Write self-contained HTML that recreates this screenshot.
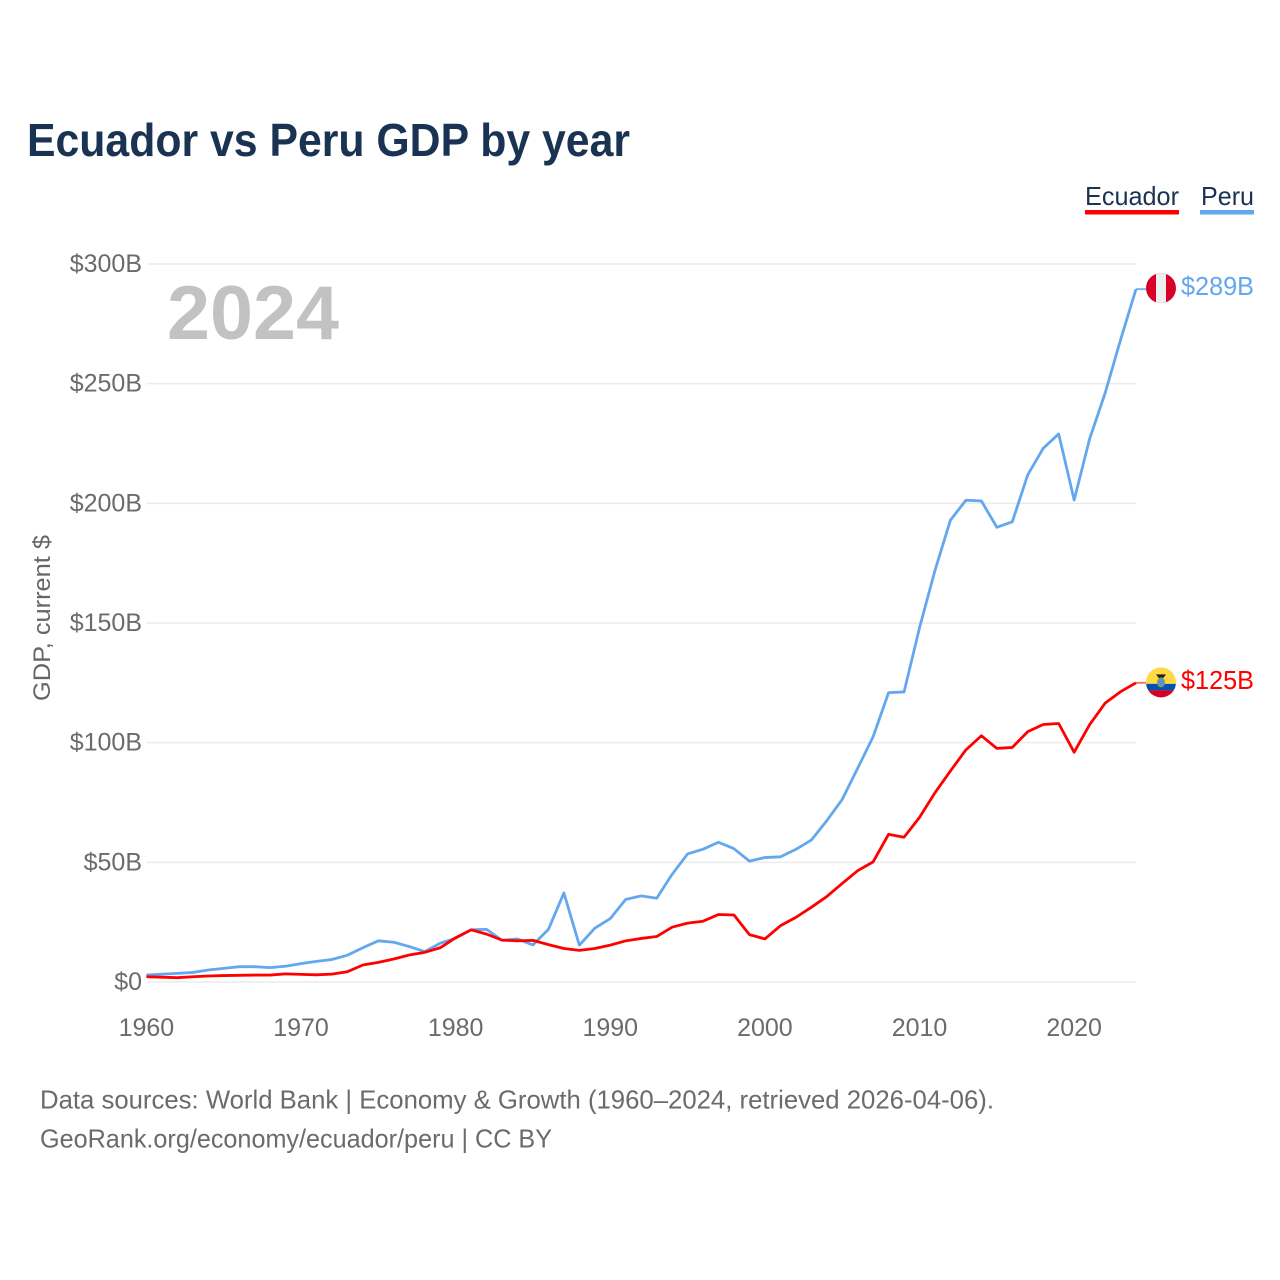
<!DOCTYPE html>
<html lang="en">
<head>
<meta charset="utf-8">
<title>Ecuador vs Peru GDP by year</title>
<style>
  html, body { margin: 0; padding: 0; background: #fff; }
  svg { display: block; font-family: "Liberation Sans", sans-serif; }
</style>
</head>
<body>
<svg id="chart" width="1280" height="1280" viewBox="0 0 1280 1280" xmlns="http://www.w3.org/2000/svg">
  <rect x="0" y="0" width="1280" height="1280" fill="#ffffff"/>
  <text x="27" y="156" font-size="46" font-weight="700" fill="#1b3353" textLength="603" lengthAdjust="spacingAndGlyphs">Ecuador vs Peru GDP by year</text>

  <g>
    <g>
      <text x="1085" y="205" font-size="26" fill="#1b3353" textLength="94" lengthAdjust="spacingAndGlyphs">Ecuador</text>
      <rect x="1085" y="210" width="94" height="4.5" fill="#ff0000"/>
    </g>
    <g>
      <text x="1201" y="205" font-size="26" fill="#1b3353" textLength="53" lengthAdjust="spacingAndGlyphs">Peru</text>
      <rect x="1200" y="210" width="54" height="4.5" fill="#63a7ee"/>
    </g>
  </g>

  <g id="grid"></g>
  <text x="167" y="339" font-size="76" font-weight="700" fill="#c2c2c2" textLength="172" lengthAdjust="spacingAndGlyphs">2024</text>
  <g id="yticks"></g>
  <g id="xticks"></g>
  <text transform="translate(50,618) rotate(-90)" text-anchor="middle" font-size="24" fill="#666666" textLength="166" lengthAdjust="spacingAndGlyphs">GDP, current $</text>
  <g id="series"></g>
  <g id="ends"></g>

  <text x="40" y="1108.5" font-size="26" fill="#6b6b6b" textLength="954" lengthAdjust="spacingAndGlyphs">Data sources: World Bank | Economy &amp; Growth (1960–2024, retrieved 2026-04-06).</text>
  <text x="40" y="1147.5" font-size="26" fill="#6b6b6b" textLength="512" lengthAdjust="spacingAndGlyphs">GeoRank.org/economy/ecuador/peru | CC BY</text>
</svg>
<script>
const years = [];
for (let yr = 1960; yr <= 2024; yr++) years.push(yr);
const peruGdp = [2.9,3.3,3.6,4.0,5.0,5.7,6.4,6.4,6.0,6.6,7.7,8.6,9.4,11.2,14.3,17.2,16.6,14.8,12.7,16.2,18.3,21.8,22.0,17.4,18.0,15.5,22.0,37.2,15.4,22.5,26.5,34.5,36.0,35.0,45.0,53.5,55.5,58.4,55.7,50.5,52.0,52.3,55.4,59.3,67.4,76.3,89.3,102.5,120.9,121.2,148.0,172.0,193.0,201.3,201.0,190.0,192.3,211.9,223.0,229.0,201.4,226.9,246.0,268.3,289.5];
const ecuadorGdp = [2.2,2.0,1.8,2.2,2.5,2.7,2.8,2.9,2.9,3.4,3.2,3.0,3.3,4.3,7.1,8.2,9.6,11.3,12.4,14.3,18.5,21.8,20.0,17.5,17.2,17.4,15.6,14.0,13.2,14.0,15.4,17.2,18.2,19.0,22.9,24.6,25.4,28.2,28.0,19.8,18.0,23.5,27.0,31.2,35.7,41.2,46.5,50.2,61.7,60.5,68.8,79.1,88.2,97.0,102.9,97.6,98.0,104.6,107.6,108.0,96.0,107.5,116.5,121.3,125.0];
const yTickValues = [0,50,100,150,200,250,300];
const yTickLabels = ['$0','$50B','$100B','$150B','$200B','$250B','$300B'];
const xTickYears = [1960,1970,1980,1990,2000,2010,2020];
const peruEndLabel = '$289B';
const ecuadorEndLabel = '$125B';

const NS = 'http://www.w3.org/2000/svg';
function xScale(year) { return 146.4 + (year - 1960) * (1136 - 146.4) / 64; }
function yScale(value) { return 982 - value * (982 - 264) / 300; }
function make(parent, tag, attrs, text) {
  const el = document.createElementNS(NS, tag);
  for (const k in attrs) el.setAttribute(k, attrs[k]);
  if (text !== undefined) el.textContent = text;
  parent.appendChild(el);
  return el;
}
function linePoints(values) {
  return values.map((v, i) => xScale(years[i]).toFixed(2) + ',' + yScale(v).toFixed(2)).join(' ');
}

const grid = document.getElementById('grid');
const yticks = document.getElementById('yticks');
yTickValues.forEach((v, i) => {
  const line = make(grid, 'line', { x1: 147, x2: 1136, y1: yScale(v), y2: yScale(v), stroke: '#ebebeb', 'stroke-width': 1.5 });
  
  
  const label = make(yticks, 'text', { x: 142, y: yScale(v) + 8, 'text-anchor': 'end', 'font-size': 25, fill: '#6b6b6b' }, yTickLabels[i]);
  
  
});

const xticks = document.getElementById('xticks');
xTickYears.forEach((yr) => {
  const label = make(xticks, 'text', { x: xScale(yr), y: 1036, 'text-anchor': 'middle', 'font-size': 25, fill: '#6b6b6b' }, String(yr));
  
  
});

const seriesGroup = document.getElementById('series');
const peruLine = make(seriesGroup, 'polyline', { points: linePoints(peruGdp), fill: 'none', stroke: '#63a7ee', 'stroke-width': 2.8, 'stroke-linejoin': 'round' });


const ecuadorLine = make(seriesGroup, 'polyline', { points: linePoints(ecuadorGdp), fill: 'none', stroke: '#ff0000', 'stroke-width': 2.8, 'stroke-linejoin': 'round' });



const ends = document.getElementById('ends');
const lastX = xScale(years[years.length - 1]);
const peruY = yScale(peruGdp[peruGdp.length - 1]);
const ecuadorY = yScale(ecuadorGdp[ecuadorGdp.length - 1]);

const peruConnector = make(ends, 'line', { x1: lastX, x2: 1147, y1: peruY, y2: peruY, stroke: '#63a7ee', 'stroke-width': 2, opacity: 0.85 });


const ecuadorConnector = make(ends, 'line', { x1: lastX, x2: 1147, y1: ecuadorY, y2: ecuadorY, stroke: '#ff0000', 'stroke-width': 2, opacity: 0.55 });



const peruFlag = make(ends, 'g', { transform: 'translate(1161,' + (peruY - 1) + ')' });


make(peruFlag, 'circle', { r: 15, fill: '#d80027' });
make(peruFlag, 'path', { d: 'M-5,-14.1 A15,15 0 0 1 5,-14.1 L5,14.1 A15,15 0 0 1 -5,14.1 Z', fill: '#eeeeee' });

const ecuadorFlag = make(ends, 'g', { transform: 'translate(1161,' + (ecuadorY - 0.5) + ')' });


make(ecuadorFlag, 'circle', { r: 15, fill: '#ffda44' });
make(ecuadorFlag, 'path', { d: 'M-14.92,1.5 L14.92,1.5 A15,15 0 0 1 12.7,8 L-12.7,8 A15,15 0 0 1 -14.92,1.5 Z', fill: '#0052b4' });
make(ecuadorFlag, 'path', { d: 'M-12.7,8 L12.7,8 A15,15 0 0 1 -12.7,8 Z', fill: '#d80027' });
make(ecuadorFlag, 'path', { d: 'M-5,-8 L5,-8 L2,-4 L-2,-4 Z', fill: '#222222' });
make(ecuadorFlag, 'ellipse', { cx: 0, cy: 0, rx: 3.6, ry: 4.4, fill: '#4f93d8', stroke: '#b99b20', 'stroke-width': 1 });

const peruLabel = make(ends, 'text', { x: 1181, y: peruY + 6, 'font-size': 26, fill: '#63a7ee', textLength: 73, lengthAdjust: 'spacingAndGlyphs' }, peruEndLabel);


const ecuadorLabel = make(ends, 'text', { x: 1181, y: ecuadorY + 6, 'font-size': 26, fill: '#ff0000', textLength: 73, lengthAdjust: 'spacingAndGlyphs' }, ecuadorEndLabel);


</script>
</body>
</html>
